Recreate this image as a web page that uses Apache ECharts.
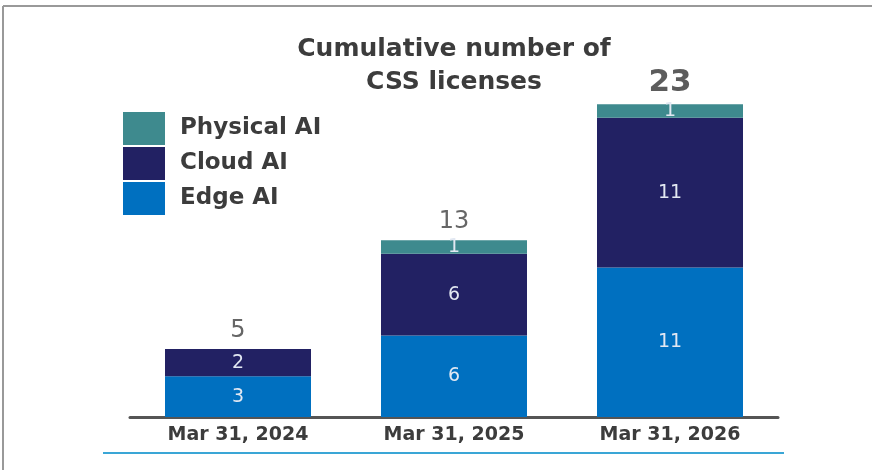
<!DOCTYPE html>
<html>
<head>
<meta charset="utf-8">
<script src="https://cdn.jsdelivr.net/npm/echarts@6/dist/echarts.min.js"></script>
<style>
html, body { margin: 0; padding: 0; background: #fff; }
#chart { width: 872px; height: 470px; }
</style>
</head>
<body>
<div id="chart"></div>
<script>
// data
var categories = ['Mar 31, 2024', 'Mar 31, 2025', 'Mar 31, 2026'];
var edgeAI = [3, 6, 11];
var cloudAI = [2, 6, 11];
var physicalAI = [0, 1, 1];
var totals = [5, 13, 23];

var font = 'DejaVu Sans, Verdana, sans-serif';
var insideLabel = {
    show: true,
    position: 'inside',
    color: '#e2e8f2',
    fontSize: 19,
    fontFamily: font,
    formatter: function (p) { return p.value ? p.value : ''; }
};

var chart = echarts.init(document.getElementById('chart'));
chart.setOption({
    animation: false,
    title: {
        text: 'Cumulative number of\nCSS licenses',
        left: 449,
        textAlign: 'center',
        top: 28,
        textStyle: {
            fontFamily: font,
            fontSize: 25,
            fontWeight: 'bold',
            color: '#3c3c3c',
            lineHeight: 33
        }
    },
    legend: {
        orient: 'vertical',
        left: 123,
        top: 112,
        padding: 0,
        itemWidth: 42,
        itemHeight: 33,
        itemGap: 2,
        icon: 'rect',
        selectedMode: false,
        data: ['Physical AI', 'Cloud AI', 'Edge AI'],
        textStyle: {
            fontFamily: font,
            fontSize: 23,
            fontWeight: 'bold',
            color: '#3c3c3c',
            padding: [0, 0, 0, 10]
        }
    },
    grid: { left: 130, width: 648, top: 77, height: 340 },
    xAxis: {
        type: 'category',
        data: categories,
        axisTick: { show: false },
        axisLine: { lineStyle: { color: '#555', width: 3 } },
        axisLabel: {
            fontFamily: font,
            fontSize: 19,
            fontWeight: 'bold',
            color: '#3c3c3c',
            margin: 9
        }
    },
    yAxis: {
        type: 'value',
        min: 0,
        max: 25,
        show: false,
        splitLine: { show: false }
    },
    series: [
        {
            name: 'Edge AI', type: 'bar', stack: 'css', barWidth: 146,
            itemStyle: { color: '#0070c0' },
            label: insideLabel,
            data: edgeAI
        },
        {
            name: 'Cloud AI', type: 'bar', stack: 'css', barWidth: 146,
            itemStyle: { color: '#222163' },
            label: insideLabel,
            data: cloudAI
        },
        {
            name: 'Physical AI', type: 'bar', stack: 'css', barWidth: 146,
            itemStyle: { color: '#3e8a8e' },
            label: insideLabel,
            data: physicalAI
        },
        {
            name: 'Total', type: 'scatter', symbolSize: 0, silent: true,
            label: {
                show: true,
                position: 'top',
                distance: 6,
                color: '#404040',
                fontFamily: font,
                fontSize: 24
            },
            data: totals.map(function (v, i) {
                if (i === totals.length - 1) {
                    return { value: v, label: { fontSize: 31, fontWeight: 'bold', color: '#333', distance: 6 } };
                }
                return v;
            })
        }
    ],
    graphic: [
        { type: 'line', shape: { x1: 3, y1: 6, x2: 872, y2: 6 }, style: { stroke: '#999', lineWidth: 2 } },
        { type: 'line', shape: { x1: 3, y1: 6, x2: 3, y2: 470 }, style: { stroke: '#999', lineWidth: 2 } },
        { type: 'line', shape: { x1: 103, y1: 453, x2: 784, y2: 453 }, style: { stroke: '#3aa6d6', lineWidth: 2 } }
    ]
});
</script>
</body>
</html>
